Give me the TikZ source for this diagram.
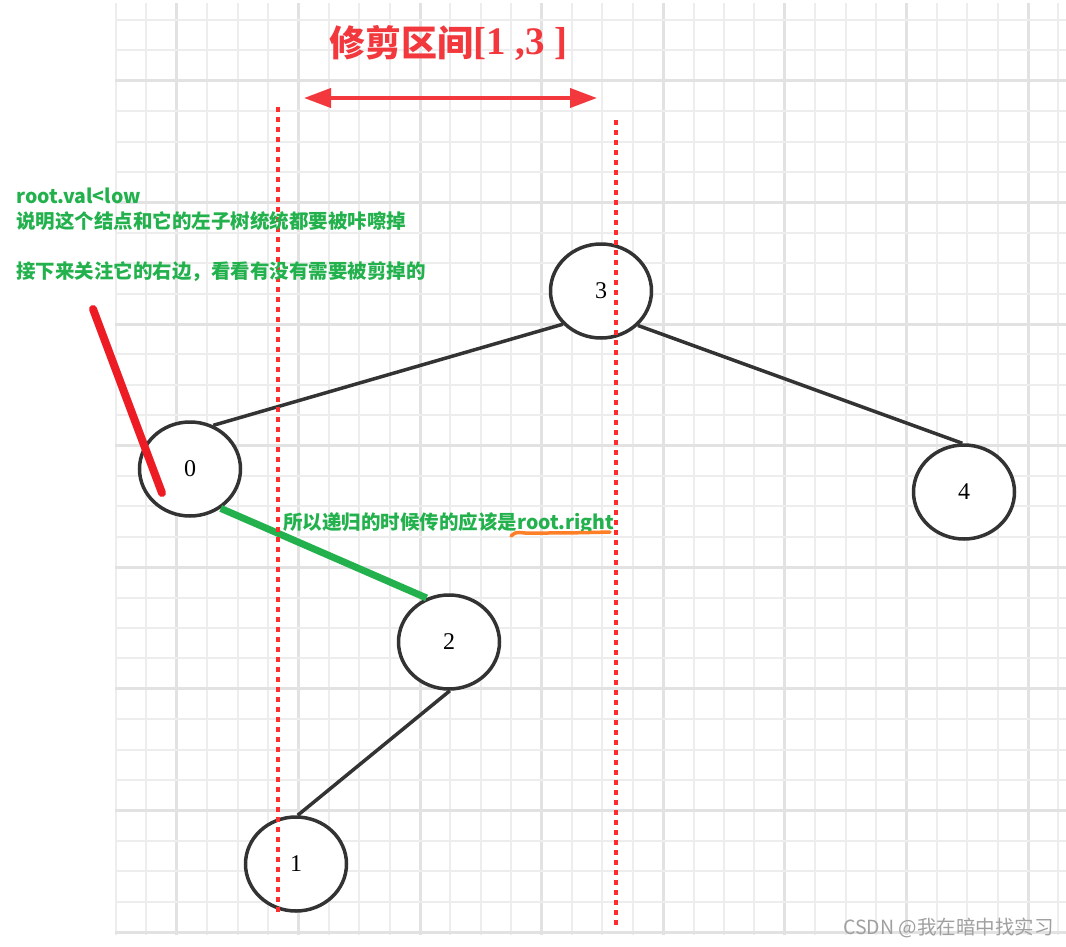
\documentclass[tikz,border=0pt]{standalone}
\usepackage{fontspec}
\setmainfont{Liberation Serif}
\newfontfamily\cjk{Noto Sans CJK SC}
\usetikzlibrary{arrows.meta,shapes.geometric}
\definecolor{gridminor}{HTML}{EDEDED}
\definecolor{gridmajor}{HTML}{E2E2E2}
\definecolor{darkline}{HTML}{333333}
\definecolor{titlered}{HTML}{F2373D}
\definecolor{dotred}{HTML}{FF2E2E}
\definecolor{cutred}{HTML}{ED1C24}
\definecolor{textgreen}{HTML}{22B14C}
\definecolor{underorange}{HTML}{FF7F27}
\definecolor{markgray}{HTML}{A0A0A0}
\tikzset{
  gridmin/.style={gridminor,line width=2pt},
  gridmaj/.style={gridmajor,line width=3pt},
  treenode/.style={ellipse,draw=darkline,line width=3.5pt,fill=white,minimum width=101pt,minimum height=94pt,inner sep=0pt,font=\fontsize{24}{24}\selectfont},
  treeedge/.style={darkline,line width=3.5pt},
  cutline/.style={dotred,line width=4pt,dash pattern=on 5pt off 5pt},
  note/.style={textgreen,inner sep=0pt,anchor=base west,font=\cjk\bfseries\fontsize{19.5}{19.5}\selectfont},
}
\begin{document}
\begin{tikzpicture}[x=1pt,y=-1pt]
\useasboundingbox[fill=white] (0,0) rectangle (1066,946);
% grid
\foreach \k in {0,...,31}{
  \pgfmathtruncatemacro\m{mod(\k,4)}
  \ifnum\m=2 \def\st{gridmaj}\else\def\st{gridmin}\fi
  \draw[\st] (116+30.4*\k,3) -- (116+30.4*\k,935);
}
\foreach \k in {0,...,30}{
  \pgfmathtruncatemacro\m{mod(\k,4)}
  \ifnum\m=2 \def\st{gridmaj}\else\def\st{gridmin}\fi
  \draw[\st] (115,20+30.4*\k) -- (1066,20+30.4*\k);
}
% nodes
\node[treenode] (n3) at (601,291) {3};
\node[treenode] (n0) at (190,469) {0};
\node[treenode] (n4) at (964,492) {4};
\node[treenode] (n2) at (449,642) {2};
\node[treenode] (n1) at (296,864) {1};
% edges
\draw[treeedge] (n3.221) -- (n0.62);
\draw[treeedge] (n3.317) -- (n4.92);
\draw[treeedge] (n2.271) -- (n1.88);
\draw[textgreen,line width=7pt] (n0.308) -- (n2.117);
% dotted interval lines
\coordinate (l1) at (278,107);
\coordinate (l2) at (278,912);
\coordinate (r1) at (616,120);
\coordinate (r2) at (616,925);
\draw[cutline] (l1) -- (l2);
\draw[cutline] (r1) -- (r2);
% interval arrow
\coordinate (a1) at (304,98);
\coordinate (a2) at (597,98);
\draw[titlered,line width=4pt,{Triangle[length=27pt,width=19pt]}-{Triangle[length=27pt,width=19pt]}] (a1) -- (a2);
% title
\node[titlered,inner sep=0pt,anchor=base west] (title) at (329,56)
  {{\cjk\bfseries\fontsize{36}{36}\selectfont 修剪区间}{\bfseries\fontsize{39}{39}\selectfont\raisebox{2pt}{[1 ,3 ]}}};
% red cut stroke
\coordinate (c1) at (93,309);
\coordinate (c2) at (162,493);
\draw[cutred,line width=8pt,line cap=round] (c1) -- (c2);
% green notes
\node[note] (t1) at (16,203) {root.val<low};
\node[note] (t2) at (16,228.5) {说明这个结点和它的左子树统统都要被咔嚓掉};
\node[note] (t3) at (16,278.5) {接下来关注它的右边，看看有没有需要被剪掉的};
\node[note] (t4) at (283,529) {所以递归的时候传的应该是root.right};
% orange underline
\coordinate (u1) at (511,536);
\coordinate (u2) at (525,533);
\coordinate (u3) at (610,532);
\draw[underorange,line width=3.5pt,line cap=round] (u1) .. controls (516,532) .. (u2) .. controls (570,533) .. (u3);
% watermark
\node[markgray,inner sep=0pt,anchor=base west,font=\cjk\fontsize{19.5}{19.5}\selectfont] (wm) at (843,934) {CSDN @我在暗中找实习};
\end{tikzpicture}
\end{document}
